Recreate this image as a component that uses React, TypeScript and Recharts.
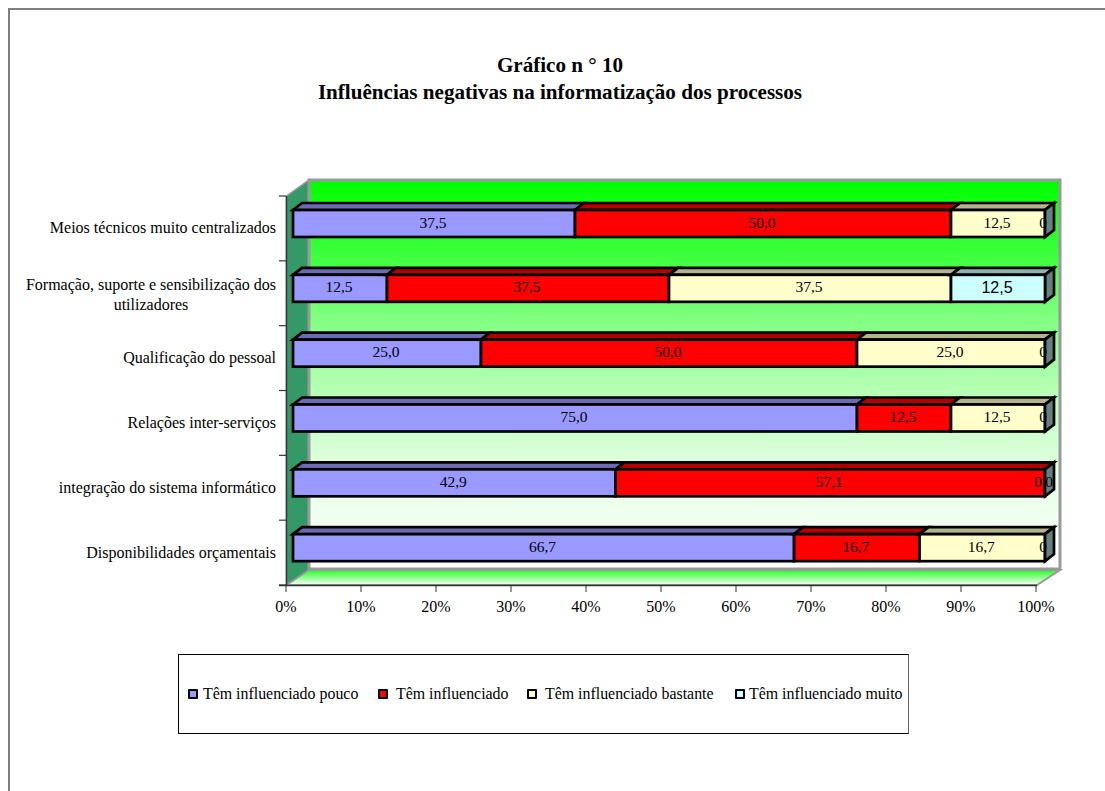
import { BarChart, Bar, XAxis, YAxis, LabelList, Legend } from "recharts";

const categories = [
  "Meios técnicos muito centralizados",
  "Formação, suporte e sensibilização dos utilizadores",
  "Qualificação do pessoal",
  "Relações inter-serviços",
  "integração do sistema informático",
  "Disponibilidades orçamentais",
];

const pouco = [37.5, 12.5, 25.0, 75.0, 42.9, 66.7];
const influenciado = [50.0, 37.5, 50.0, 12.5, 57.1, 16.7];
const bastante = [12.5, 37.5, 25.0, 12.5, 0, 16.7];
const muito = [0, 12.5, 0, 0, 0, 0];

const percentTicks = [0, 0.1, 0.2, 0.3, 0.4, 0.5, 0.6, 0.7, 0.8, 0.9, 1];

const data = categories.map((name, i) => ({
  name,
  pouco: pouco[i],
  influenciado: influenciado[i],
  bastante: bastante[i],
  muito: muito[i],
}));

const SERIF = "'Liberation Serif', serif";
const DX = 9;
const DY = -7;
const BAND = 64.83;

const series = [
  { key: "pouco", label: "Têm influenciado pouco", fill: "#9999ff", top: "#6b6bb3" },
  { key: "influenciado", label: "Têm influenciado", fill: "#ff0000", top: "#b30000" },
  { key: "bastante", label: "Têm influenciado bastante", fill: "#ffffcc", top: "#b3b38f" },
  { key: "muito", label: "Têm influenciado muito", fill: "#ccffff", top: "#8fb3b3" },
];

// barra com topo e lateral para imitar o 3D do Excel
function Bar3D(props: any) {
  const { x, y, width, height, fill, top, last } = props;
  return (
    <g stroke="#000" strokeWidth={2.7} strokeLinejoin="miter">
      <polygon
        points={`${x},${y} ${x + DX},${y + DY} ${x + width + DX},${y + DY} ${x + width},${y}`}
        fill={top}
      />
      {last && (
        <polygon
          points={`${x + width},${y} ${x + width + DX},${y + DY} ${x + width + DX},${y + height + DY} ${x + width},${y + height}`}
          fill="#668080"
        />
      )}
      {width > 0 && <rect x={x} y={y} width={width} height={height} fill={fill} />}
    </g>
  );
}

function renderValue(props: any, seriesIndex: number) {
  const { x, y, width, height, value, index } = props;
  if (value === undefined || value === null) return null;
  const isZero = value === 0;
  const text = isZero ? "0" : value.toFixed(1).replace(".", ",");
  // zeros ficam encostados ao fim da barra, como no original
  let labelX = x + width / 2 - 1;
  if (isZero) {
    const rowHasTwoZeros = bastante[index] === 0;
    if (seriesIndex === 2) labelX = x - 7;
    else labelX = rowHasTwoZeros ? x + 4 : x - 2;
  }
  const sans = seriesIndex === 3 && !isZero;
  return (
    <text
      x={labelX}
      y={y + height / 2 + 0.5}
      textAnchor="middle"
      dominantBaseline="middle"
      fontFamily={sans ? "'Liberation Sans', sans-serif" : SERIF}
      fontSize={sans ? 16 : 15.5}
      fill="#000"
    >
      {text}
    </text>
  );
}

function CategoryTick(props: any) {
  const { y, payload, index } = props;
  const wrapped = payload.value.startsWith("Formação");
  const bounds = index === categories.length - 1 ? [y - BAND / 2, y + BAND / 2] : [y - BAND / 2];
  return (
    <g>
      {bounds.map((b) => (
        <line key={b} x1={279} x2={286} y1={b} y2={b} stroke="#333" strokeWidth={1.2} />
      ))}
      {wrapped ? (
        <text fontFamily={SERIF} fontSize={16} fill="#000" textAnchor="middle">
          <tspan x={151} y={y - 3}>Formação, suporte e sensibilização dos</tspan>
          <tspan x={151} y={y + 17}>utilizadores</tspan>
        </text>
      ) : (
        <text x={276} y={y + 5} fontFamily={SERIF} fontSize={16} fill="#000" textAnchor="end">
          {payload.value}
        </text>
      )}
    </g>
  );
}

function LegendBox() {
  return (
    <div
      style={{
        position: "relative",
        boxSizing: "border-box",
        width: 731,
        height: 80,
        border: "1px solid #000",
        borderRight: "1px solid #666",
        fontFamily: SERIF,
        fontSize: 15.9,
        color: "#000",
      }}
    >
      {series.map((s, i) => (
        <div
          key={s.key}
          style={{ position: "absolute", left: [9, 199, 348, 556][i], top: 30, display: "flex", alignItems: "center", whiteSpace: "nowrap" }}
        >
          <span
            style={{ width: 6, height: 6, border: "2.5px solid #000", background: s.fill, marginRight: [5, 8, 8, 4][i], borderRadius: 1 }}
          />
          {s.label}
        </div>
      ))}
    </div>
  );
}

export default function App() {
  return (
    <div style={{ position: "absolute", left: 0, top: 0, width: 1105, height: 791, background: "#fff", overflow: "hidden" }}>
      <div style={{ position: "absolute", left: 8, top: 8, width: 1200, height: 900, border: "2px solid #808080" }} />
      <BarChart
        width={1105}
        height={791}
        data={data}
        layout="vertical"
        stackOffset="expand"
        barSize={27}
        margin={{ top: 191, right: 60, bottom: 176, left: 6 }}
        style={{ position: "absolute", left: 0, top: 0 }}
      >
        <defs>
          <linearGradient id="wall" x1="0" y1="0" x2="0" y2="1">
            <stop offset="0" stopColor="#00ff00" />
            <stop offset="0.2" stopColor="#40ff40" />
            <stop offset="0.35" stopColor="#80ff80" />
            <stop offset="0.55" stopColor="#b8ffb8" />
            <stop offset="0.75" stopColor="#e4ffe4" />
            <stop offset="1" stopColor="#ffffff" />
          </linearGradient>
          <linearGradient id="floor" x1="0" y1="0" x2="0" y2="1">
            <stop offset="0" stopColor="#20ff20" />
            <stop offset="1" stopColor="#ffffff" />
          </linearGradient>
        </defs>
        <text x={560} y={72} textAnchor="middle" fontFamily={SERIF} fontWeight="bold" fontSize={21.1}>
          Gráfico n ° 10
        </text>
        <text x={560} y={99} textAnchor="middle" fontFamily={SERIF} fontWeight="bold" fontSize={21.1}>
          Influências negativas na informatização dos processos
        </text>

        <polygon points="286.5,196 309,180 309,570 286.5,585" fill="#339966" stroke="#999" strokeWidth={1.5} />
        <polygon points="309,570 1060,570 1037,585 286.5,585" fill="url(#floor)" stroke="#999" strokeWidth={2} />
        <rect x={309} y={180} width={751} height={389} fill="url(#wall)" stroke="#999" strokeWidth={3} />
        <line x1={286.5} x2={286.5} y1={196} y2={585} stroke="#333" strokeWidth={1.5} />
        <line x1={279} x2={1037} y1={585.5} y2={585.5} stroke="#333" strokeWidth={1.5} />

        <XAxis
          xAxisId="scale"
          type="number"
          domain={[0, 1]}
          ticks={percentTicks}
          tickFormatter={(v: number) => `${Math.round(v * 100)}%`}
          padding={{ left: 0, right: 9 }}
          height={30}
          axisLine={false}
          stroke="#333"
          tickSize={7}
          tickMargin={9}
          tick={{ fontFamily: SERIF, fontSize: 16, fill: "#000" }}
          interval={0}
        />
        <XAxis xAxisId="bars" type="number" hide height={0} domain={[0, 1]} padding={{ left: 7, right: 0 }} />
        <YAxis
          yAxisId="scale"
          type="category"
          dataKey="name"
          width={280}
          padding={{ top: 5, bottom: 0 }}
          axisLine={false}
          tickLine={false}
          tick={<CategoryTick />}
          interval={0}
        />
        <YAxis yAxisId="bars" type="category" dataKey="name" hide width={0} padding={{ top: 0, bottom: 5 }} />
        {series.map((s, i) => (
          <Bar
            key={s.key}
            xAxisId="bars"
            yAxisId="bars"
            dataKey={s.key}
            name={s.label}
            stackId="a"
            fill={s.fill}
            isAnimationActive={false}
            shape={(p: any) => <Bar3D {...p} fill={s.fill} top={s.top} last={i === series.length - 1} />}
          >
            <LabelList dataKey={s.key} content={(p: any) => renderValue(p, i)} />
          </Bar>
        ))}
        <Legend
          layout="horizontal"
          verticalAlign="middle"
          align="center"
          content={<LegendBox />}
          wrapperStyle={{ left: 178, top: 654, width: 731 }}
        />
      </BarChart>
    </div>
  );
}
